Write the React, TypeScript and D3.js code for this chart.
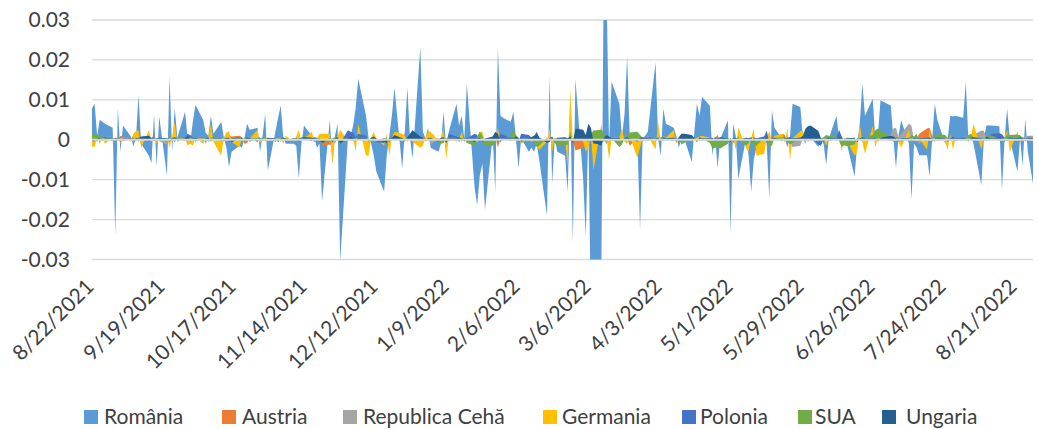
import React from "react";
import * as d3 from "d3";

// Trading days (Mon–Fri) shown on the chart; the axis itself runs 8/22/2021 – 8/21/2022
const tradingDays: Date[] = d3.timeDay
  .range(new Date(2021, 7, 20), new Date(2022, 7, 23))
  .filter((d) => d.getDay() !== 0 && d.getDay() !== 6);

const seriesNames = ["România", "Austria", "Republica Cehă", "Germania", "Polonia", "SUA", "Ungaria"];

const xTickLabels = [
  "8/22/2021", "9/19/2021", "10/17/2021", "11/14/2021", "12/12/2021", "1/9/2022", "2/6/2022",
  "3/6/2022", "4/3/2022", "5/1/2022", "5/29/2022", "6/26/2022", "7/24/2022", "8/21/2022",
];
const yTicks = [-0.03, -0.02, -0.01, 0, 0.01, 0.02, 0.03];

const romania = [
  0.0054,
  0.009, 0.001, 0.005, 0.0045, 0.004,
  0.003, -0.024, 0.008, -0.003, 0.0036,
  0.0008, -0.0017, 0.0005, 0.0112, -0.001,
  -0.004, -0.0058, 0.0063, -0.0067, 0.0058,
  -0.009, 0.016, -0.003, 0.008, 0.0005,
  0.007, 0.0003, -0.0005, 0.0045, 0.0087,
  0.005, 0.0017, 0.001, 0.006, 0.0015,
  0.0045, 0.0005, -0.002, -0.0068, -0.003,
  -0.0015, -0.002, 0.0005, 0.004, 0.0025,
  0.003, -0.003, 0.001, 0.0065, -0.0077,
  0.0022, 0.0055, 0.0086, 0.0004, -0.001,
  -0.001, -0.0015, -0.0097, -0.001, 0.0036,
  0.001, 0.0005, -0.002, -0.001, -0.0155,
  0.005, -0.006, 0.001, 0.004, -0.0305,
  0.0005, 0.001, 0.0035, 0.008, 0.0153,
  0.006, 0.0003, -0.001, -0.004, -0.008,
  -0.013, -0.004, 0.001, 0.006, 0.013,
  -0.0072, 0.002, 0.013, 0.0004, -0.0047,
  0.0232, 0.002, 0.0003, 0.003, -0.002,
  -0.003, -0.001, 0.007, -0.002, 0.002,
  0.009, 0.0036, 0.006, 0.0002, 0.014,
  -0.012, -0.0164, -0.009, -0.006, -0.0176,
  0.001, -0.013, 0.0232, 0.006, 0.0055,
  0.0045, 0.007, 0.0002, -0.0072, 0.0003,
  -0.003, -0.002, -0.003, -0.001, -0.005,
  -0.019, 0.016, -0.011, 0.0003, -0.003,
  -0.004, -0.013, 0.0095, -0.026, 0.0153,
  -0.01, -0.0243, 0.003, -0.045, -0.04,
  -0.035, 0.045, 0.04, -0.001, 0.0145,
  0.009, 0.0005, 0.0065, 0.021, 0.001,
  -0.001, -0.0225, 0.0003, 0.001, 0.002,
  0.0194, 0.0002, -0.004, 0.0078, 0.004,
  0.003, 0.001, -0.002, 0.0003, 0.0005,
  -0.0056, 0.002, 0.009, 0.006, 0.0107,
  0.0085, -0.004, 0.001, -0.0072, 0.0002,
  0.0048, -0.0235, 0.004, 0.001, -0.0098,
  0.0003, -0.004, -0.013, -0.005, -0.002,
  0.0002, -0.001, -0.0148, 0.0073, 0.003,
  0.0002, 0.0005, -0.002, 0.001, 0.009,
  0.0082, 0.0003, -0.001, 0.0036, 0.0005,
  -0.0018, 0.0002, -0.001, -0.0064, 0.0003,
  0.006, 0.0002, -0.001, -0.0005, -0.001,
  -0.0093, -0.001, 0.004, 0.014, 0.006,
  0.0103, 0.0002, 0.001, 0.0099, 0.0095,
  0.0086, 0.0003, -0.0072, 0.001, 0.0049,
  -0.001, -0.015, -0.001, -0.002, -0.0039,
  -0.0039, -0.0093, 0.0002, 0.009, 0.005,
  -0.001, 0.0003, 0.006, 0.0058, 0.006,
  0.0055, 0.0145, 0.0002, 0.001, -0.001,
  -0.0114, 0.0003, 0.0036, 0.0036, 0.0036,
  0.0034, -0.0126, 0.0002, 0.0078, 0.0003,
  -0.008, 0.0003, -0.0065, 0.0053, -0.003,
  -0.015,
];

const austria = [
  0.0002,
  0.0003, -0.0004, 0.0005, 0.0003, -0.0002,
  0.0004, 0.0003, -0.0003, 0.001, 0.0008,
  0.0005, -0.0003, 0.0004, 0.0002, -0.0004,
  0.0003, 0.0005, 0.001, -0.0003, 0.0004,
  0.0002, -0.0004, 0.0003, 0.0005, 0.0003,
  -0.0003, 0.0004, 0.0002, -0.0005, 0.0003,
  0.0004, 0.0003, -0.0004, 0.0005, 0.0002,
  -0.0003, 0.0005, 0.0003, 0.001, 0.0008,
  0.001, 0.0006, -0.001, -0.0008, 0.0003,
  0.0004, -0.0003, 0.0005, 0.0003, -0.0004,
  0.0003, 0.0004, -0.0003, 0.0005, 0.0002,
  -0.0004, 0.0003, 0.0005, -0.0003, 0.0004,
  0.0003, -0.0005, 0.0004, 0.0002, -0.0015,
  -0.0012, -0.0015, 0.0003, 0.0004, -0.0005,
  0.0005, 0.0003, -0.0004, 0.0005, 0.0003,
  0.0004, -0.0003, 0.0005, 0.0003, -0.0004,
  0.0003, -0.0005, 0.0004, 0.0003, 0.0005,
  0.0004, 0.0015, -0.0003, 0.0005, 0.0003,
  -0.0004, 0.0003, 0.0005, -0.0003, 0.0004,
  0.0003, -0.0005, 0.0004, 0.0003, -0.0003,
  0.0005, 0.0003, -0.0004, 0.0003, 0.0004,
  -0.0003, 0.0004, 0.0005, -0.0004, 0.0003,
  0.0004, 0.001, -0.002, 0.0003, 0.0004,
  -0.0003, 0.0005, 0.0003, -0.0004, 0.0005,
  0.0004, 0.0003, 0.0008, 0.0015, -0.0003,
  0.0003, -0.0005, 0.0004, 0.0003, -0.0004,
  0.0004, -0.0003, 0.0005, 0.0003, -0.0027,
  -0.002, 0.0005, -0.0004, 0.0003, -0.001,
  0.0004, -0.0005, 0.0006, 0.0003, -0.0004,
  0.0005, 0.0003, -0.0004, 0.0004, -0.0015,
  0.0003, 0.0005, -0.0004, 0.0003, 0.0004,
  -0.0003, 0.0004, 0.0005, -0.0004, 0.0003,
  0.0004, 0.0003, -0.0005, 0.0004, 0.0003,
  -0.0004, 0.0005, 0.0003, -0.0003, 0.0004,
  0.0005, 0.0003, 0.0004, 0.0012, -0.0004,
  0.0003, -0.0005, 0.0004, 0.0003, -0.0004,
  0.0004, 0.0003, -0.0005, 0.0004, -0.003,
  -0.0015, 0.0004, 0.0003, -0.0004, 0.0005,
  0.0015, 0.0012, -0.0004, 0.0003, 0.0005,
  -0.0003, 0.0004, 0.0005, -0.0004, 0.0003,
  0.0004, -0.0003, 0.0005, 0.0003, -0.0004,
  0.0003, 0.0005, -0.0004, 0.0004, -0.0015,
  -0.0012, 0.0004, 0.0003, -0.0004, 0.0005,
  0.0003, 0.0004, -0.0005, 0.0003, 0.0004,
  -0.0003, 0.0005, 0.0004, -0.0004, 0.0003,
  0.0004, -0.0003, 0.0005, 0.0003, 0.0015,
  0.0028, 0.003, 0.001, -0.0004, 0.0003,
  0.0004, -0.0003, 0.0005, 0.0003, -0.0004,
  0.0003, 0.0004, -0.0005, 0.0003, 0.0004,
  -0.0004, 0.0003, 0.0005, -0.0003, 0.0004,
  0.0003, -0.0004, 0.0005, 0.0003, -0.0003,
  0.0004, 0.0003, -0.0004, 0.0005, 0.0003,
  0.0003,
];

const cehia = [
  0.0003,
  0.0003, -0.0005, 0.0004, 0.0002, -0.0003,
  0.0004, 0.0002, -0.0004, 0.0003, 0.0005,
  -0.0003, 0.0004, 0.0003, -0.0005, 0.0002,
  0.0004, -0.0003, 0.0005, 0.0003, -0.0004,
  -0.0012, 0.0003, 0.0004, -0.0003, 0.0005,
  0.0003, -0.0004, 0.0002, 0.0004, -0.0003,
  0.0005, -0.001, 0.0003, 0.0004, -0.0004,
  0.0003, 0.0005, -0.0003, 0.0004, 0.0002,
  -0.0004, 0.0003, 0.0005, -0.0003, 0.0004,
  0.0003, -0.0004, 0.0002, 0.0005, -0.0003,
  0.0004, 0.0003, -0.0005, 0.0003, 0.0004,
  -0.0003, 0.0005, 0.0004, -0.0004, 0.0003,
  0.0004, -0.0003, 0.0005, 0.0003, -0.0004,
  0.0003, 0.0004, -0.001, 0.0005, 0.0003,
  -0.0004, 0.0003, 0.0005, -0.0003, 0.0004,
  0.0003, -0.0005, 0.0004, 0.0003, -0.0003,
  0.0005, 0.0003, -0.0004, 0.0004, 0.0003,
  -0.0003, 0.0004, 0.0005, -0.0004, 0.0003,
  0.0004, -0.0003, 0.0003, 0.0005, -0.0012,
  0.0003, 0.0004, -0.0004, 0.0003, 0.0005,
  -0.0003, 0.0004, 0.0003, -0.0005, 0.0004,
  0.0003, -0.0004, 0.0005, 0.0003, -0.0003,
  0.0004, 0.0003, -0.0004, 0.0005, 0.0003,
  -0.0004, 0.0003, 0.0004, -0.0003, 0.0005,
  0.0003, -0.0005, 0.0004, 0.0003, -0.0004,
  0.0004, 0.0003, -0.0003, 0.0005, 0.0004,
  -0.0003, 0.0004, 0.0003, -0.0005, 0.0004,
  0.0003, -0.0012, 0.0004, 0.0005, -0.0003,
  0.0004, 0.0003, -0.0012, 0.0004, 0.0003,
  -0.0004, 0.0005, 0.0003, -0.0003, 0.0004,
  0.0003, -0.0004, 0.0005, 0.0003, -0.0003,
  0.0004, 0.0003, -0.0004, 0.0005, 0.0003,
  -0.0003, 0.0004, 0.0003, -0.0005, 0.0004,
  0.0003, -0.0004, 0.0005, 0.0003, -0.0003,
  0.0004, 0.0003, -0.0004, 0.0005, 0.0003,
  -0.0003, 0.0004, -0.001, 0.0003, 0.0005,
  0.0003, -0.0004, 0.0004, 0.0003, -0.0003,
  0.0004, 0.0003, -0.0005, 0.0004, 0.0003,
  -0.0003, 0.0005, 0.0003, -0.0006, -0.0018,
  -0.0015, 0.0008, 0.0023, 0.0006, 0.0004,
  0.0003, -0.0004, 0.0005, 0.0003, -0.0003,
  0.0004, 0.0003, -0.0004, 0.0005, 0.0003,
  -0.0003, 0.0004, 0.0003, -0.0005, 0.0004,
  0.0003, -0.0004, 0.0005, 0.0003, 0.0008,
  0.0012, 0.0028, 0.003, 0.0006, 0.0015,
  0.004, 0.0035, -0.0004, 0.0003, -0.001,
  0.0003, -0.0004, 0.0005, 0.0003, -0.0003,
  0.0004, 0.0003, -0.0004, 0.0005, 0.0003,
  -0.0003, 0.0004, 0.0003, 0.0008, 0.0012,
  0.0023, 0.0022, 0.0006, -0.0004, 0.0003,
  0.0004, 0.0003, -0.0004, 0.0005, 0.0003,
  -0.0003, 0.0004, 0.0003, 0.0008, 0.001,
  0.001,
];

const germania = [
  -0.0015,
  -0.0018, 0.0005, -0.001, 0.0005, -0.001,
  0.0005, -0.0005, 0.0003, -0.0008, 0.0004,
  -0.0005, 0.0015, 0.0022, 0.0024, -0.002,
  0.0024, -0.0004, 0.0005, -0.001, 0.0003,
  0.0005, -0.002, 0.0008, 0.0045, -0.0005,
  0.0005, -0.0015, -0.001, -0.0015, 0.0005,
  -0.001, 0.0004, 0.0006, 0.004, -0.0005,
  -0.004, 0.0005, 0.0018, 0.0022, -0.0005,
  -0.002, 0.0005, 0.0004, -0.0003, 0.0003,
  0.0025, -0.001, 0.0005, -0.0003, 0.0002,
  -0.0005, 0.0003, 0.0005, -0.001, 0.001,
  -0.0005, 0.0008, 0.0025, -0.0005, 0.0003,
  0.002, -0.0005, 0.0004, 0.0015, 0.0015,
  0.0015, -0.006, 0.0005, 0.0008, 0.0025,
  -0.0003, 0.001, 0.0006, -0.003, 0.004,
  -0.004, -0.004, 0.0005, 0.002, 0.0002,
  -0.0015, 0.0015, -0.004, 0.0005, 0.002,
  0.0015, 0.001, -0.0005, 0.0003, -0.0005,
  -0.002, -0.0015, 0.0005, 0.002, 0.002,
  -0.0003, 0.0005, 0.003, -0.005, 0.0005,
  -0.0005, 0.0004, 0.002, -0.0005, 0.0003,
  0.0005, -0.0008, 0.002, 0.002, -0.0005,
  0.0005, -0.0003, 0.003, -0.0005, 0.0004,
  0.0005, 0.0003, -0.0005, 0.0004, -0.001,
  0.0003, -0.0005, 0.0005, -0.0015, -0.0025,
  -0.0005, 0.003, -0.003, 0.0005, -0.0008,
  0.0003, -0.0068, 0.0125, -0.0005, 0.0015,
  -0.0005, -0.003, -0.002, 0.001, -0.0077,
  0.004, -0.0008, 0.001, -0.005, 0.0005,
  0.0005, 0.003, -0.0005, -0.001, 0.0008,
  -0.0045, -0.002, 0.0005, -0.0005, 0.001,
  -0.0025, 0.0045, -0.0005, 0.001, 0.0005,
  0.0025, -0.001, 0.0003, -0.0005, 0.0004,
  0.0003, -0.0004, 0.0005, 0.0008, 0.001,
  0.0005, -0.0005, 0.0003, 0.0004, -0.0005,
  0.0005, -0.0005, 0.0003, -0.0025, 0.003,
  -0.002, -0.003, 0.0005, 0.0028, -0.004,
  -0.0035, 0.0005, 0.0022, -0.0005, 0.001,
  0.0015, -0.0008, 0.003, -0.005, 0.0003,
  0.0022, 0.0022, -0.0005, 0.0004, -0.0003,
  0.0005, -0.0005, 0.0004, -0.0015, 0.0003,
  0.0005, 0.002, -0.003, 0.0005, -0.0003,
  -0.004, -0.003, 0.004, -0.0005, -0.0035,
  0.0035, -0.002, 0.0005, -0.0003, 0.0004,
  0.0005, -0.0004, 0.0003, -0.0005, -0.002,
  0.0025, -0.0005, 0.0004, -0.0005, 0.0003,
  -0.0025, 0.0025, -0.0005, 0.0003, 0.0005,
  -0.0005, -0.0025, 0.0015, -0.0025, 0.0003,
  0.0005, -0.0005, 0.0004, 0.0008, 0.004,
  -0.0025, 0.0005, -0.0004, 0.0003, 0.0005,
  -0.0003, 0.0004, 0.0005, 0.0025, -0.003,
  0.002, -0.0005, 0.0004, -0.0003, 0.0005,
  -0.001,
];

const polonia = [
  0.0003,
  0.0004, -0.0003, 0.0005, 0.0003, 0.0006,
  -0.0004, 0.0005, 0.0003, -0.0005, 0.0004,
  0.0003, 0.0006, -0.0004, 0.0005, 0.0003,
  -0.0005, 0.0004, 0.0006, -0.0003, 0.0005,
  0.0004, 0.0003, -0.0005, 0.0006, 0.0004,
  0.0005, 0.0015, 0.0012, 0.0005, -0.0004,
  0.0003, 0.0005, -0.0005, 0.0004, 0.0006,
  -0.0004, 0.0003, 0.0005, -0.0006, 0.0004,
  0.0006, -0.0003, 0.0004, 0.0005, -0.0005,
  0.0004, 0.0006, -0.0004, 0.0003, 0.0005,
  -0.0005, 0.0004, 0.0003, 0.0006, -0.0004,
  0.0005, -0.0003, 0.0004, 0.0005, 0.0003,
  -0.0004, 0.0006, 0.0005, -0.0005, -0.0006,
  0.0004, -0.0008, 0.0005, 0.0006, -0.0008,
  0.0024, 0.002, 0.0018, 0.0006, 0.0015,
  0.001, -0.0005, 0.0004, 0.0003, -0.0006,
  -0.0008, 0.0005, -0.0006, 0.0004, 0.0006,
  0.0005, -0.0004, 0.0003, 0.0006, 0.0005,
  0.0004, 0.0006, -0.0003, 0.0005, 0.0004,
  -0.0004, 0.0005, 0.0006, -0.0005, 0.0015,
  0.0008, 0.0004, -0.0004, 0.0005, 0.0003,
  0.0015, 0.0012, -0.0006, 0.0004, -0.0005,
  0.0003, 0.0005, -0.0006, 0.0015, 0.0012,
  0.0005, 0.0004, 0.0006, -0.0005, 0.0015,
  0.0012, 0.0005, 0.0008, 0.002, 0.0006,
  -0.0006, 0.0005, 0.0008, -0.0008, 0.0004,
  0.0005, -0.0005, 0.0006, -0.001, 0.0008,
  0.0006, 0.0004, 0.0008, 0.0005, -0.001,
  -0.0012, 0.0006, 0.001, 0.0004, 0.0005,
  0.0004, -0.0004, 0.0005, 0.0006, 0.0004,
  -0.0005, 0.0004, 0.0003, 0.0005, 0.0006,
  0.0004, 0.0005, -0.0004, 0.0006, 0.0003,
  0.0005, 0.0004, -0.0005, 0.0012, 0.0015,
  0.0008, 0.0005, -0.0004, 0.0005, 0.0004,
  0.0003, -0.0005, 0.0006, 0.0004, 0.0005,
  0.0004, -0.0006, 0.0005, 0.0003, -0.0004,
  0.0005, 0.0004, -0.0005, 0.0006, 0.0004,
  0.0008, 0.0023, -0.0006, 0.0005, 0.0004,
  0.0003, 0.0006, -0.0004, 0.0005, 0.0004,
  0.0005, 0.0004, 0.0006, -0.0005, 0.0008,
  -0.0012, -0.0015, 0.0004, 0.0005, 0.0003,
  0.0006, 0.0025, 0.0008, -0.0004, 0.0005,
  0.0004, -0.0006, 0.0005, 0.0003, 0.0006,
  0.0005, 0.0004, 0.0008, 0.0012, 0.0005,
  0.0004, -0.0005, 0.0006, 0.0004, 0.0003,
  0.0005, 0.0006, -0.0004, 0.0005, 0.0004,
  0.0003, 0.0005, 0.0004, -0.0005, 0.0006,
  0.0004, 0.0005, 0.0003, 0.0006, -0.0004,
  0.0005, 0.0004, 0.0006, -0.0003, 0.0005,
  0.0004, 0.0003, -0.0004, 0.0008, 0.0015,
  0.0016, 0.0014, 0.0005, -0.0004, 0.0006,
  0.0005, 0.0004, 0.0006, 0.0003, 0.0005,
  0.0004,
];

const sua = [
  0.0015,
  0.0015, 0.0012, 0.001, 0.0006, 0.0004,
  0.0003, -0.0004, 0.0005, 0.0002, -0.0003,
  0.0004, 0.0003, -0.0005, 0.0006, 0.0004,
  0.0008, 0.0005, -0.0003, 0.0004, 0.0002,
  -0.0005, 0.0006, 0.0003, -0.0006, 0.0004,
  0.0005, -0.0004, 0.0006, 0.0003, -0.0005,
  0.0008, 0.0004, -0.0003, 0.0005, 0.0006,
  0.0003, -0.0005, 0.0004, 0.0006, -0.0004,
  0.0005, 0.0004, -0.0006, 0.0003, 0.0005,
  0.0004, -0.0003, 0.0005, 0.0006, 0.0003,
  -0.0004, 0.0005, 0.0003, 0.0004, -0.0005,
  0.0003, 0.0005, -0.0004, 0.0006, 0.0008,
  0.0005, -0.0006, 0.0004, 0.0003, -0.0008,
  -0.0005, 0.0004, 0.0006, -0.0003, -0.0012,
  0.0006, 0.0008, -0.0005, 0.0004, 0.0008,
  0.0005, -0.0004, 0.0006, 0.0003, -0.0005,
  0.0004, -0.0008, 0.0005, 0.0006, 0.0003,
  -0.0005, 0.0004, 0.0006, 0.0005, 0.0003,
  0.0005, 0.0006, -0.0004, 0.0003, 0.0004,
  -0.0006, -0.001, -0.0008, 0.0004, 0.0003,
  0.0004, -0.0006, 0.0005, 0.0003, -0.0008,
  -0.0015, 0.0008, 0.002, 0.001, -0.0017,
  -0.0015, -0.0008, 0.0005, -0.0006, 0.0004,
  0.0008, 0.0028, 0.0012, 0.0005, -0.0004,
  -0.0005, 0.0004, -0.0008, -0.0018, -0.0015,
  0.0004, -0.0006, 0.0005, -0.0008, -0.0015,
  -0.0015, -0.0012, 0.002, -0.0006, 0.0005,
  0.0008, 0.0004, -0.0006, 0.0015, 0.0023,
  0.0025, 0.0018, -0.0005, 0.0006, 0.0004,
  -0.0018, -0.0012, 0.0005, 0.0015, 0.0018,
  0.002, 0.0012, 0.0005, -0.0004, 0.0003,
  0.0005, -0.0004, 0.0006, 0.0008, 0.0004,
  0.0003, -0.0005, 0.0004, -0.0012, -0.0008,
  0.0004, 0.0005, -0.0006, 0.0003, 0.0004,
  -0.0008, -0.0022, -0.002, -0.0018, -0.0022,
  -0.001, 0.0005, -0.0004, 0.0003, 0.0006,
  -0.0015, -0.0008, 0.0004, -0.0018, -0.0015,
  0.0004, -0.0006, -0.0018, -0.0015, 0.0005,
  0.0006, 0.0003, -0.0005, -0.0012, -0.0008,
  0.0004, 0.0006, -0.0003, 0.0005, 0.0004,
  -0.0005, 0.0004, 0.0006, 0.0012, 0.001,
  0.0008, -0.0004, -0.0018, -0.0014, -0.0016,
  -0.0012, 0.0005, 0.0004, -0.0003, 0.0006,
  0.0012, 0.0024, 0.0028, 0.0026, 0.002,
  0.0008, -0.0004, 0.0006, 0.0003, -0.0005,
  0.0004, 0.0012, 0.0008, 0.0015, -0.0004,
  0.0005, 0.0003, -0.0005, 0.0008, 0.0015,
  0.0012, 0.0004, -0.0003, 0.0005, 0.0004,
  0.0006, 0.0004, 0.0012, 0.0015, 0.0005,
  -0.0004, 0.0003, 0.0008, 0.0011, 0.001,
  0.0005, -0.0004, 0.0004, 0.0013, 0.0012,
  0.0013, 0.0011, 0.0005, -0.0003, 0.0004,
  0.0003,
];

const ungaria = [
  -0.0003,
  -0.0004, 0.0003, 0.0005, -0.0003, 0.0004,
  0.0003, -0.0005, 0.0004, 0.0002, -0.0003,
  0.0004, -0.0003, 0.0005, 0.0003, 0.0008,
  0.001, 0.0004, -0.0004, 0.0003, 0.0005,
  0.0003, -0.0005, 0.0004, 0.0006, -0.0003,
  0.0004, 0.0008, -0.0004, 0.0003, 0.0005,
  -0.0003, 0.0004, 0.0006, -0.0005, 0.0003,
  0.0004, -0.0003, 0.0005, 0.0004, -0.0006,
  0.0003, 0.0005, -0.0004, 0.0006, 0.0004,
  -0.0005, 0.0003, 0.0004, -0.0003, 0.0005,
  0.0004, -0.0006, 0.0003, 0.0005, 0.0004,
  -0.0003, 0.0005, -0.0004, 0.0003, 0.0006,
  0.0005, 0.0003, -0.0005, 0.0004, -0.0008,
  0.0004, -0.0005, 0.0003, 0.0006, -0.001,
  0.0005, 0.0008, 0.0004, -0.0003, 0.0006,
  0.0004, -0.0004, 0.0005, 0.0008, 0.0003,
  -0.0005, -0.0008, 0.0004, 0.0005, 0.0012,
  0.0004, -0.0005, 0.0006, 0.0015, 0.0024,
  0.0008, 0.0005, -0.0004, 0.0003, 0.0005,
  -0.0005, 0.0004, 0.0006, -0.0008, 0.0003,
  0.0004, 0.0006, 0.0003, -0.0004, 0.0005,
  -0.0006, 0.0004, 0.0005, -0.0005, 0.0003,
  0.0008, 0.002, 0.0015, -0.0005, 0.0004,
  0.0005, 0.0003, 0.0008, 0.0004, -0.0005,
  0.0004, 0.0006, 0.001, 0.0015, 0.0005,
  -0.0008, -0.0005, 0.0006, -0.0004, 0.0005,
  0.0006, 0.0004, 0.0008, -0.0005, 0.0028,
  0.0025, 0.0012, 0.004, 0.003, -0.0006,
  -0.0015, 0.0005, 0.0012, 0.0008, 0.0004,
  0.0005, -0.0005, 0.0004, 0.0006, 0.0003,
  -0.0004, 0.0005, 0.0006, 0.0003, 0.0004,
  0.0003, 0.0005, -0.0004, 0.0006, 0.0004,
  0.0005, -0.0003, 0.0006, 0.0015, 0.0015,
  0.0012, 0.0004, -0.0005, 0.0006, 0.0003,
  0.0004, 0.0005, -0.0003, 0.0004, 0.0006,
  0.0003, -0.0005, 0.0004, 0.0005, -0.0004,
  0.0005, 0.0004, 0.0006, -0.0005, 0.0003,
  0.0004, 0.0006, -0.0004, 0.0003, 0.0005,
  -0.0003, 0.0004, 0.0005, 0.0006, 0.0004,
  0.0005, 0.001, 0.0028, 0.0034, 0.0036,
  0.0022, 0.0004, -0.0005, 0.0003, 0.0005,
  0.0004, 0.0006, 0.0005, -0.0004, 0.0003,
  0.0005, -0.0005, 0.0004, 0.0006, 0.0003,
  0.0004, 0.0005, -0.0003, 0.0004, 0.0006,
  0.001, 0.0008, 0.0004, -0.0005, 0.0003,
  0.0004, -0.0004, 0.0005, 0.0003, 0.0004,
  0.0005, 0.0006, -0.0004, 0.0003, 0.0005,
  0.0004, -0.0005, 0.0003, 0.0006, 0.0004,
  0.0005, 0.0004, -0.0003, 0.0005, 0.0006,
  0.0004, -0.0004, 0.0008, 0.0005, 0.0003,
  0.0006, 0.0004, -0.0005, 0.0003, 0.0005,
  0.0004, 0.0006, 0.0003, -0.0004, 0.0005,
  0.0004,
];

const seriesValues = [romania, austria, cehia, germania, polonia, sua, ungaria];

// styling
const COLORS = ["#5B9BD5", "#ED7D31", "#A5A5A5", "#FFC000", "#4472C4", "#70AD47", "#255E91"];
const FONT = "Lato, 'Open Sans', 'DejaVu Sans', sans-serif";
const TEXT = "#404040";
const W = 1038;
const H = 429;
const PLOT = { left: 92, right: 1033, top: 20, bottom: 259.5 };
const LEGEND_X = [84, 222, 343, 543, 682, 798, 882];
const LEGEND_TEXT_X = [104, 242, 363, 562, 700, 815, 906];

export default function App() {
  const parse = d3.timeParse("%m/%d/%Y");
  const tickDates = xTickLabels.map((s) => parse(s) as Date);

  const x = d3
    .scaleTime()
    .domain([tickDates[0], tickDates[tickDates.length - 1]])
    .range([PLOT.left, PLOT.right]);
  // label placement scale (Excel packs the rotated labels slightly tighter)
  const xLabel = d3.scaleTime().domain(x.domain()).range([95, 1018]);
  const y = d3.scaleLinear().domain([-0.03, 0.03]).range([PLOT.bottom, PLOT.top]);

  const area = d3
    .area<[Date, number]>()
    .x((d) => x(d[0]))
    .y0(y(0))
    .y1((d) => y(d[1]));

  const fmt = (v: number) => (Math.abs(v) < 1e-9 ? "0" : String(+v.toFixed(2)));

  return (
    <svg
      width={W}
      height={H}
      style={{ position: "absolute", left: 0, top: 0, background: "#fff" }}
      fontFamily={FONT}
    >
      <defs>
        <clipPath id="plotClip">
          <rect x={PLOT.left} y={PLOT.top} width={PLOT.right - PLOT.left} height={PLOT.bottom - PLOT.top} />
        </clipPath>
      </defs>
      <rect x={0} y={0} width={W} height={H} fill="#fff" />

      {/* gridlines */}
      {yTicks.map((t) => (
        <line key={"g" + t} x1={PLOT.left} x2={PLOT.right} y1={y(t)} y2={y(t)} stroke="#D9D9D9" strokeWidth={1.4} />
      ))}

      {/* areas */}
      <g clipPath="url(#plotClip)">
        {seriesValues.map((vals, i) => {
          const pts: [Date, number][] = tradingDays.map((d, k) => [d, vals[k] ?? 0]);
          return <path key={seriesNames[i]} d={area(pts) || ""} fill={COLORS[i]} stroke="none" />;
        })}
      </g>

      {/* horizontal axis line */}
      <line x1={PLOT.left} x2={PLOT.right} y1={y(0)} y2={y(0)} stroke="#D9D9D9" strokeWidth={2} />

      {/* y labels */}
      {yTicks.map((t) => (
        <text key={"y" + t} x={70} y={y(t)} dy="0.35em" textAnchor="end" fontSize={21} fill={TEXT}>
          {fmt(t)}
        </text>
      ))}

      {/* x labels */}
      {tickDates.map((d, i) => {
        const lx = xLabel(d);
        const ly = 288;
        return (
          <text
            key={"x" + i}
            transform={`translate(${lx},${ly}) rotate(-45)`}
            textAnchor="end"
            fontSize={21}
            fill={TEXT}
          >
            {xTickLabels[i]}
          </text>
        );
      })}

      {/* legend */}
      {seriesNames.map((name, i) => (
        <g key={"l" + name}>
          <rect x={LEGEND_X[i]} y={410} width={14} height={14} fill={COLORS[i]} />
          <text x={LEGEND_TEXT_X[i]} y={424} fontSize={21} fill={TEXT}>
            {name}
          </text>
        </g>
      ))}
    </svg>
  );
}
